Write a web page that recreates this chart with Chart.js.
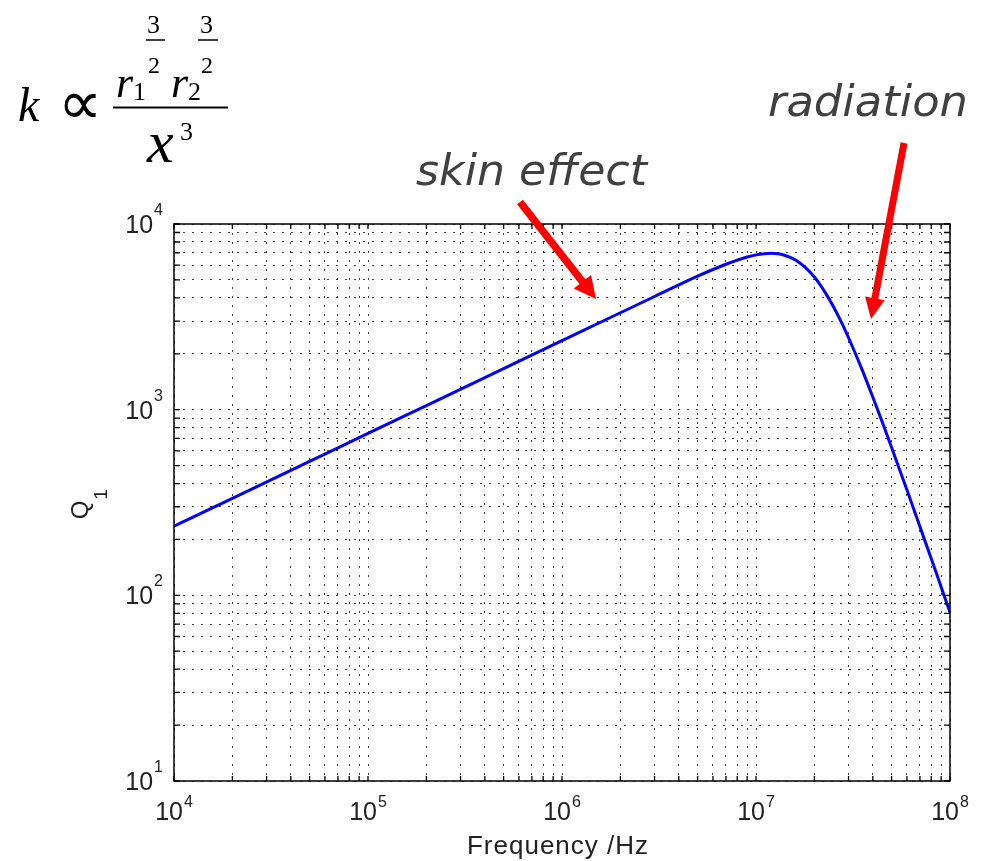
<!DOCTYPE html>
<html lang="en">

<head>
    <meta charset="UTF-8">
    <title>Q1 vs frequency</title>
    <style>
        body {
            margin: 0;
            background: white;
        }

        .wrap {
            position: relative;
            width: 987px;
            height: 861px;
        }

        #qChart {
            position: absolute;
            left: 0;
            top: 0;
        }

        svg {
            position: absolute;
            left: 0;
            top: 0;
            pointer-events: none;
        }

        .math {
            font-family: "Liberation Serif", "Times New Roman", serif;
            fill: black;
        }

        .note {
            font-family: "DejaVu Sans", Verdana, sans-serif;
            font-style: italic;
            font-size: 42px;
            fill: #404040;
        }
    </style>
</head>

<body>
    <div class="wrap">
        <canvas id="qChart" width="987" height="861"></canvas>
        <svg id="over" width="987" height="861">
            <!-- k proportional to r1^(3/2) r2^(3/2) / x^3 -->
            <text class="math" x="18" y="121" font-size="48" font-style="italic">k</text>
            <text class="math" x="58" y="124" font-size="62">∝</text>
            <line x1="113" y1="107.5" x2="228" y2="107.5" stroke="black" stroke-width="2" />
            <text class="math" x="116" y="97" font-size="44" font-style="italic">r</text>
            <text class="math" x="133" y="100" font-size="26">1</text>
            <text class="math" x="147" y="33" font-size="26">3</text>
            <line x1="146" y1="40" x2="165" y2="40" stroke="black" stroke-width="1.5" />
            <text class="math" x="148" y="73" font-size="24">2</text>
            <text class="math" x="171" y="97" font-size="44" font-style="italic">r</text>
            <text class="math" x="188" y="100" font-size="26">2</text>
            <text class="math" x="200" y="33" font-size="26">3</text>
            <line x1="198" y1="40" x2="218" y2="40" stroke="black" stroke-width="1.5" />
            <text class="math" x="201" y="73" font-size="24">2</text>
            <text class="math" x="147" y="162" font-size="60" font-style="italic">x</text>
            <text class="math" x="180" y="140" font-size="26">3</text>

            <text class="note" x="416" y="185" textLength="231" lengthAdjust="spacingAndGlyphs">skin effect</text>
            <text class="note" x="768" y="116" textLength="200" lengthAdjust="spacingAndGlyphs">radiation</text>
        </svg>
    </div>

    <script src="https://cdn.jsdelivr.net/npm/chart.js"></script>
    <script>
        // frequency in Hz and Q1
        const freqHz = [1e4, 2e4, 5e4, 1e5, 2e5, 5e5, 1e6, 2e6, 3e6, 5e6, 7e6, 8e6, 9e6,
            1e7, 1.1e7, 1.2e7, 1.3e7, 1.4e7, 1.5e7, 1.6e7, 1.8e7, 2e7, 2.25e7, 2.5e7, 2.75e7,
            3e7, 3.5e7, 4e7, 4.5e7, 5e7, 6e7, 7e7, 8e7, 9e7, 1e8];
        const q1 = [236, 333, 526, 745, 1052, 1663, 2355, 3327, 4070, 5240, 6070, 6390, 6640,
            6820, 6920, 6950, 6910, 6790, 6620, 6400, 5820, 5180, 4350, 3610, 2970,
            2440, 1670, 1170, 845, 625, 369, 234, 158, 111, 81];

        // decades that get a 10^n label, and the minor steps inside each decade
        const xDecades = [4, 5, 6, 7, 8];
        const yDecades = [1, 2, 3, 4];
        const minorSteps = [1, 2, 3, 4, 5, 6, 7, 8, 9];

        function logTicks(decades) {
            const out = [];
            decades.forEach((d, i) => {
                if (i === decades.length - 1) {
                    out.push(Math.pow(10, d));
                    return;
                }
                minorSteps.forEach(m => out.push(m * Math.pow(10, d)));
            });
            return out;
        }
        const xTickValues = logTicks(xDecades);
        const yTickValues = logTicks(yDecades);

        const labelFont = '"Liberation Sans", Arial, sans-serif';

        // "10" with a raised exponent
        function drawPow(ctx, ax, baseline, exp, align, raise) {
            ctx.font = '25px ' + labelFont;
            const w1 = ctx.measureText('10').width;
            ctx.font = '16px ' + labelFont;
            const w2 = ctx.measureText(String(exp)).width;
            const total = w1 + 1 + w2;
            const start = align === 'center' ? ax - total / 2 : ax - total;
            ctx.textAlign = 'left';
            ctx.font = '25px ' + labelFont;
            ctx.fillText('10', start, baseline);
            ctx.font = '16px ' + labelFont;
            ctx.fillText(String(exp), start + w1 + 1, baseline - raise);
        }

        const axesBox = {
            id: 'axesBox',
            afterDraw(chart) {
                const { ctx, chartArea: a, scales: { x, y } } = chart;
                ctx.save();
                ctx.strokeStyle = '#000';
                ctx.lineWidth = 1.5;
                ctx.strokeRect(a.left, a.top, a.right - a.left, a.bottom - a.top);

                // inward ticks on all four sides
                ctx.lineWidth = 1.3;
                ctx.beginPath();
                xTickValues.forEach(v => {
                    const px = x.getPixelForValue(v);
                    ctx.moveTo(px, a.bottom); ctx.lineTo(px, a.bottom - 5);
                    ctx.moveTo(px, a.top); ctx.lineTo(px, a.top + 5);
                });
                yTickValues.forEach(v => {
                    const py = y.getPixelForValue(v);
                    ctx.moveTo(a.left, py); ctx.lineTo(a.left + 6, py);
                    ctx.moveTo(a.right, py); ctx.lineTo(a.right - 6, py);
                });
                ctx.stroke();

                ctx.fillStyle = '#222';
                ctx.textBaseline = 'alphabetic';
                xDecades.forEach(d => {
                    drawPow(ctx, x.getPixelForValue(Math.pow(10, d)), a.bottom + 39, d, 'center', 13);
                });
                yDecades.forEach(d => {
                    drawPow(ctx, a.left - 11, y.getPixelForValue(Math.pow(10, d)) + 9, d, 'right', 18);
                });

                // axis titles
                ctx.font = '26px ' + labelFont;
                ctx.letterSpacing = '1px';
                ctx.textAlign = 'center';
                ctx.fillText('Frequency /Hz', (a.left + a.right) / 2 - 4, 854);
                ctx.letterSpacing = '0px';

                ctx.translate(88, 510);
                ctx.rotate(-Math.PI / 2);
                ctx.textAlign = 'left';
                ctx.font = '24px ' + labelFont;
                const qw = ctx.measureText('Q').width;
                ctx.fillText('Q', -qw / 2, 0);
                ctx.font = '19px ' + labelFont;
                ctx.fillText('1', qw / 2 + 1, 19);
                ctx.restore();
            }
        };

        const ctx = document.getElementById('qChart').getContext('2d');
        new Chart(ctx, {
            type: 'line',
            data: {
                datasets: [{
                    data: freqHz.map((f, i) => ({ x: f, y: q1[i] })),
                    borderColor: '#0000ff',
                    borderWidth: 3,
                    pointRadius: 0,
                    cubicInterpolationMode: 'monotone',
                    fill: false
                }]
            },
            options: {
                responsive: false,
                animation: false,
                events: [],
                layout: {
                    padding: { left: 174, top: 224, right: 37, bottom: 80 }
                },
                plugins: {
                    legend: { display: false },
                    tooltip: { enabled: false }
                },
                scales: {
                    x: {
                        type: 'logarithmic',
                        min: 1e4,
                        max: 1e8,
                        afterBuildTicks: (s) => { s.ticks = xTickValues.map(v => ({ value: v })); },
                        ticks: { display: false },
                        grid: { color: 'rgba(0,0,0,0.75)', lineWidth: 1, drawTicks: false },
                        border: { display: false, dash: [2, 7] }
                    },
                    y: {
                        type: 'logarithmic',
                        min: 10,
                        max: 1e4,
                        afterBuildTicks: (s) => { s.ticks = yTickValues.map(v => ({ value: v })); },
                        ticks: { display: false },
                        grid: { color: 'rgba(0,0,0,0.75)', lineWidth: 1, drawTicks: false },
                        border: { display: false, dash: [2, 7] }
                    }
                }
            },
            plugins: [axesBox]
        });

        // red annotation arrows, shaft + head polygon from start to tip
        function arrow(x0, y0, x1, y1, shaft, headLen, headHalf) {
            const dx = x1 - x0, dy = y1 - y0;
            const len = Math.hypot(dx, dy);
            const ux = dx / len, uy = dy / len, nx = -uy, ny = ux;
            const bx = x1 - ux * headLen, by = y1 - uy * headLen;
            const h = shaft / 2;
            const pts = [
                [x0 + nx * h, y0 + ny * h], [bx + nx * h, by + ny * h], [bx + nx * headHalf, by + ny * headHalf],
                [x1, y1],
                [bx - nx * headHalf, by - ny * headHalf], [bx - nx * h, by - ny * h], [x0 - nx * h, y0 - ny * h]
            ];
            const p = document.createElementNS('http://www.w3.org/2000/svg', 'polygon');
            p.setAttribute('points', pts.map(q => q.join(',')).join(' '));
            p.setAttribute('fill', '#ff0000');
            document.getElementById('over').appendChild(p);
        }
        arrow(520, 202, 596, 299, 7.5, 22, 11);
        arrow(904, 143, 871, 319, 7, 21, 10);
    </script>
</body>

</html>
